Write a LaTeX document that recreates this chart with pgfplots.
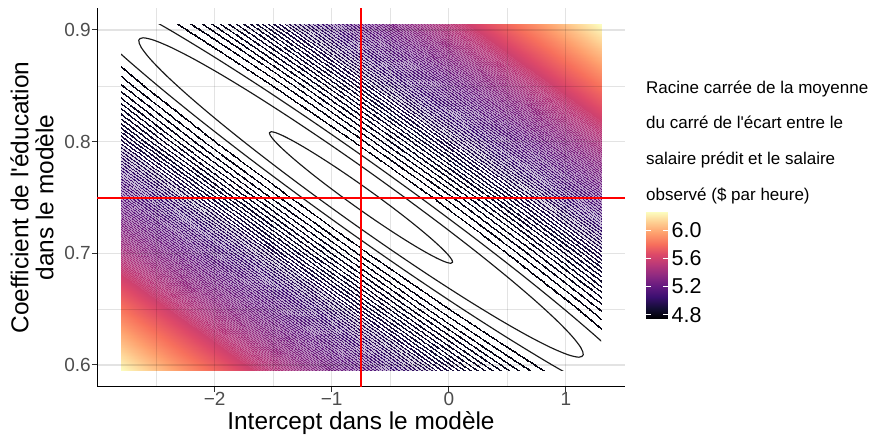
\documentclass[border=0pt]{standalone}
\usepackage{pgfplots}
\pgfplotsset{compat=1.18}
\usepackage{pgfplotstable}
\usepackage{fontspec}
\newfontfamily\lsans{Liberation Sans}
\definecolor{gridc}{HTML}{E3E3E3}
\definecolor{tickc}{HTML}{333333}
\definecolor{labc}{HTML}{4D4D4D}
\definecolor{pureRed}{RGB}{255,0,0}

\pgfplotsset{
colormap={magmaU}{rgb255=(0,0,4) rgb255=(20,14,54) rgb255=(59,15,112) rgb255=(100,26,128) rgb255=(140,41,129) rgb255=(183,55,121) rgb255=(222,73,104) rgb255=(247,112,92) rgb255=(254,159,109) rgb255=(254,207,146) rgb255=(252,253,191)},
colormap={magmaQ}{rgb255(22.5pt)=(0,0,4) rgb255(22.5397pt)=(0,0,4) rgb255(23.9990pt)=(20,14,54) rgb255(25.5041pt)=(59,15,112) rgb255(27.0550pt)=(100,26,128) rgb255(28.6516pt)=(140,41,129) rgb255(30.2940pt)=(183,55,121) rgb255(31.9822pt)=(222,73,104) rgb255(33.7161pt)=(247,112,92) rgb255(35.4959pt)=(254,159,109) rgb255(37.3213pt)=(254,207,146) rgb255(39.1926pt)=(252,253,191) rgb255(41.5pt)=(252,253,191)},
colormap={stripes}{color(22.5pt)=(white)
color(22.8768pt)=(black) color(22.9004pt)=(white)
color(22.9918pt)=(black) color(23.0192pt)=(white)
color(23.1072pt)=(black) color(23.1380pt)=(white)
color(23.2232pt)=(black) color(23.2570pt)=(white)
color(23.3396pt)=(black) color(23.3762pt)=(white)
color(23.4564pt)=(black) color(23.4956pt)=(white)
color(23.5734pt)=(black) color(23.6152pt)=(white)
color(23.6910pt)=(black) color(23.7350pt)=(white)
color(23.8089pt)=(black) color(23.8551pt)=(white)
color(23.9270pt)=(black) color(23.9754pt)=(white)
color(24.0456pt)=(black) color(24.0960pt)=(white)
color(24.1645pt)=(black) color(24.2169pt)=(white)
color(24.2836pt)=(black) color(24.3380pt)=(white)
color(24.4032pt)=(black) color(24.4594pt)=(white)
color(24.5278pt)=(black) color(24.5762pt)=(white!87!black)
color(24.6488pt)=(black) color(24.6974pt)=(white!85!black)
color(24.7701pt)=(black) color(24.8187pt)=(white!83!black)
color(24.8917pt)=(black) color(24.9405pt)=(white!81!black)
color(25.0136pt)=(black) color(25.0625pt)=(white!79!black)
color(25.1358pt)=(black) color(25.1848pt)=(white!77!black)
color(25.2582pt)=(black) color(25.3074pt)=(white!75!black)
color(25.3810pt)=(black) color(25.4302pt)=(white!73!black)
color(25.5041pt)=(black) color(25.5535pt)=(white!71!black)
color(25.6275pt)=(black) color(25.6770pt)=(white!70!black)
color(25.7511pt)=(black) color(25.8007pt)=(white!68!black)
color(25.8751pt)=(black) color(25.9249pt)=(white!66!black)
color(25.9994pt)=(black) color(26.0492pt)=(white!65!black)
color(26.1239pt)=(black) color(26.1739pt)=(white!63!black)
color(26.2488pt)=(black) color(26.2988pt)=(white!62!black)
color(26.3739pt)=(black) color(26.4241pt)=(white!60!black)
color(26.4994pt)=(black) color(26.5498pt)=(white!59!black)
color(26.6252pt)=(black) color(26.6756pt)=(white!57!black)
color(26.7512pt)=(black) color(26.8018pt)=(white!56!black)
color(26.8776pt)=(black) color(26.9282pt)=(white!54!black)
color(27.0042pt)=(black) color(27.0550pt)=(white!53!black)
color(27.1311pt)=(black) color(27.1821pt)=(white!52!black)
color(27.2584pt)=(black) color(27.3094pt)=(white!50!black)
color(27.3859pt)=(black) color(27.4371pt)=(white!49!black)
color(27.5138pt)=(black) color(27.5650pt)=(white!48!black)
color(27.6419pt)=(black) color(27.6933pt)=(white!47!black)
color(27.7703pt)=(black) color(27.8219pt)=(white!45!black)
color(27.8991pt)=(black) color(27.9507pt)=(white!44!black)
color(28.0281pt)=(black) color(28.0799pt)=(white!43!black)
color(28.1575pt)=(black) color(28.2093pt)=(white!42!black)
color(28.2870pt)=(black) color(28.3390pt)=(white!41!black)
color(28.4169pt)=(black) color(28.4691pt)=(white!40!black)
color(28.5472pt)=(black) color(28.5994pt)=(white!38!black)
color(28.6777pt)=(black) color(28.7301pt)=(white!37!black)
color(28.8086pt)=(black) color(28.8610pt)=(white!36!black)
color(28.9396pt)=(black) color(28.9922pt)=(white!35!black)
color(29.0711pt)=(black) color(29.1238pt)=(white!34!black)
color(29.2028pt)=(black) color(29.2556pt)=(white!33!black)
color(29.3347pt)=(black) color(29.3877pt)=(white!32!black)
color(29.4671pt)=(black) color(29.5201pt)=(white!31!black)
color(29.5997pt)=(black) color(29.6529pt)=(white!30!black)
color(29.7325pt)=(black) color(29.7859pt)=(white!29!black)
color(29.8658pt)=(black) color(29.9192pt)=(white!28!black)
color(29.9992pt)=(black) color(30.0528pt)=(white!27!black)
color(30.1331pt)=(black) color(30.1867pt)=(white!26!black)
color(30.2671pt)=(black) color(30.3209pt)=(white!23!black)
color(30.4015pt)=(black) color(30.4555pt)=(white!20!black)
color(30.5362pt)=(black) color(30.5902pt)=(white!17!black)
color(30.6712pt)=(black) color(30.7254pt)=(white!14!black)
color(30.8065pt)=(black) color(30.8607pt)=(white!11!black)
color(30.9420pt)=(black) color(30.9964pt)=(white!8!black)
color(31.0780pt)=(black) color(31.1325pt)=(white!5!black)
color(31.2141pt)=(black)
color(41.5pt)=(black)}
}

% RMSE^2 (Q) on a grid aligned with the valley of the criterion
\pgfplotstableread{
a b Q
-7.0678 0.905 41.1701
-6.7678 0.905 38.6801
-6.5178 0.905 36.7426
-6.2678 0.905 34.9301
-6.0178 0.905 33.2426
-5.7678 0.905 31.6801
-5.5178 0.905 30.2426
-5.2678 0.905 28.9301
-5.0178 0.905 27.7426
-4.7678 0.905 26.6801
-4.5178 0.905 25.7426
-4.2678 0.905 24.9301
-4.1178 0.905 24.5026
-3.9678 0.905 24.1201
-3.8678 0.905 23.8901
-3.7678 0.905 23.6801
-3.6678 0.905 23.4901
-3.5678 0.905 23.3201
-3.4678 0.905 23.1701
-3.3678 0.905 23.0401
-3.2678 0.905 22.9301
-3.1678 0.905 22.8401
-2.9678 0.905 22.7201
-2.7678 0.905 22.6801
-2.5678 0.905 22.7201
-2.3678 0.905 22.8401
-2.2678 0.905 22.9301
-2.1678 0.905 23.0401
-2.0678 0.905 23.1701
-1.9678 0.905 23.3201
-1.8678 0.905 23.4901
-1.7678 0.905 23.6801
-1.6678 0.905 23.8901
-1.5678 0.905 24.1201
-1.4178 0.905 24.5026
-1.2678 0.905 24.9301
-1.0178 0.905 25.7426
-0.7678 0.905 26.6801
-0.5178 0.905 27.7426
-0.2678 0.905 28.9301
-0.0178 0.905 30.2426
0.2322 0.905 31.6801
0.4822 0.905 33.2426
0.7322 0.905 34.9301
0.9822 0.905 36.7426
1.2322 0.905 38.6801
1.5322 0.905 41.1701
-6.3518 0.85 41.0743
-6.0518 0.85 38.5843
-5.8018 0.85 36.6468
-5.5518 0.85 34.8343
-5.3018 0.85 33.1468
-5.0518 0.85 31.5843
-4.8018 0.85 30.1468
-4.5518 0.85 28.8343
-4.3018 0.85 27.6468
-4.0518 0.85 26.5843
-3.8018 0.85 25.6468
-3.5518 0.85 24.8343
-3.4018 0.85 24.4068
-3.2518 0.85 24.0243
-3.1518 0.85 23.7943
-3.0518 0.85 23.5843
-2.9518 0.85 23.3943
-2.8518 0.85 23.2243
-2.7518 0.85 23.0743
-2.6518 0.85 22.9443
-2.5518 0.85 22.8343
-2.4518 0.85 22.7443
-2.2518 0.85 22.6243
-2.0518 0.85 22.5843
-1.8518 0.85 22.6243
-1.6518 0.85 22.7443
-1.5518 0.85 22.8343
-1.4518 0.85 22.9443
-1.3518 0.85 23.0743
-1.2518 0.85 23.2243
-1.1518 0.85 23.3943
-1.0518 0.85 23.5843
-0.9518 0.85 23.7943
-0.8518 0.85 24.0243
-0.7018 0.85 24.4068
-0.5518 0.85 24.8343
-0.3018 0.85 25.6468
-0.0518 0.85 26.5843
0.1982 0.85 27.6468
0.4482 0.85 28.8343
0.6982 0.85 30.1468
0.9482 0.85 31.5843
1.1982 0.85 33.1468
1.4482 0.85 34.8343
1.6982 0.85 36.6468
1.9482 0.85 38.5843
2.2482 0.85 41.0743
-5.7009 0.8 41.0231
-5.4009 0.8 38.5331
-5.1509 0.8 36.5956
-4.9009 0.8 34.7831
-4.6509 0.8 33.0956
-4.4009 0.8 31.5331
-4.1509 0.8 30.0956
-3.9009 0.8 28.7831
-3.6509 0.8 27.5956
-3.4009 0.8 26.5331
-3.1509 0.8 25.5956
-2.9009 0.8 24.7831
-2.7509 0.8 24.3556
-2.6009 0.8 23.9731
-2.5009 0.8 23.7431
-2.4009 0.8 23.5331
-2.3009 0.8 23.3431
-2.2009 0.8 23.1731
-2.1009 0.8 23.0231
-2.0009 0.8 22.8931
-1.9009 0.8 22.7831
-1.8009 0.8 22.6931
-1.6009 0.8 22.5731
-1.4009 0.8 22.5331
-1.2009 0.8 22.5731
-1.0009 0.8 22.6931
-0.9009 0.8 22.7831
-0.8009 0.8 22.8931
-0.7009 0.8 23.0231
-0.6009 0.8 23.1731
-0.5009 0.8 23.3431
-0.4009 0.8 23.5331
-0.3009 0.8 23.7431
-0.2009 0.8 23.9731
-0.0509 0.8 24.3556
0.0991 0.8 24.7831
0.3491 0.8 25.5956
0.5991 0.8 26.5331
0.8491 0.8 27.5956
1.0991 0.8 28.7831
1.3491 0.8 30.0956
1.5991 0.8 31.5331
1.8491 0.8 33.0956
2.0991 0.8 34.7831
2.3491 0.8 36.5956
2.5991 0.8 38.5331
2.8991 0.8 41.0231
-5.05 0.75 41.006
-4.75 0.75 38.516
-4.5 0.75 36.5785
-4.25 0.75 34.766
-4.0 0.75 33.0785
-3.75 0.75 31.516
-3.5 0.75 30.0785
-3.25 0.75 28.766
-3.0 0.75 27.5785
-2.75 0.75 26.516
-2.5 0.75 25.5785
-2.25 0.75 24.766
-2.1 0.75 24.3385
-1.95 0.75 23.956
-1.85 0.75 23.726
-1.75 0.75 23.516
-1.65 0.75 23.326
-1.55 0.75 23.156
-1.45 0.75 23.006
-1.35 0.75 22.876
-1.25 0.75 22.766
-1.15 0.75 22.676
-0.95 0.75 22.556
-0.75 0.75 22.516
-0.55 0.75 22.556
-0.35 0.75 22.676
-0.25 0.75 22.766
-0.15 0.75 22.876
-0.05 0.75 23.006
0.05 0.75 23.156
0.15 0.75 23.326
0.25 0.75 23.516
0.35 0.75 23.726
0.45 0.75 23.956
0.6 0.75 24.3385
0.75 0.75 24.766
1.0 0.75 25.5785
1.25 0.75 26.516
1.5 0.75 27.5785
1.75 0.75 28.766
2.0 0.75 30.0785
2.25 0.75 31.516
2.5 0.75 33.0785
2.75 0.75 34.766
3.0 0.75 36.5785
3.25 0.75 38.516
3.55 0.75 41.006
-4.3991 0.7 41.0231
-4.0991 0.7 38.5331
-3.8491 0.7 36.5956
-3.5991 0.7 34.7831
-3.3491 0.7 33.0956
-3.0991 0.7 31.5331
-2.8491 0.7 30.0956
-2.5991 0.7 28.7831
-2.3491 0.7 27.5956
-2.0991 0.7 26.5331
-1.8491 0.7 25.5956
-1.5991 0.7 24.7831
-1.4491 0.7 24.3556
-1.2991 0.7 23.9731
-1.1991 0.7 23.7431
-1.0991 0.7 23.5331
-0.9991 0.7 23.3431
-0.8991 0.7 23.1731
-0.7991 0.7 23.0231
-0.6991 0.7 22.8931
-0.5991 0.7 22.7831
-0.4991 0.7 22.6931
-0.2991 0.7 22.5731
-0.0991 0.7 22.5331
0.1009 0.7 22.5731
0.3009 0.7 22.6931
0.4009 0.7 22.7831
0.5009 0.7 22.8931
0.6009 0.7 23.0231
0.7009 0.7 23.1731
0.8009 0.7 23.3431
0.9009 0.7 23.5331
1.0009 0.7 23.7431
1.1009 0.7 23.9731
1.2509 0.7 24.3556
1.4009 0.7 24.7831
1.6509 0.7 25.5956
1.9009 0.7 26.5331
2.1509 0.7 27.5956
2.4009 0.7 28.7831
2.6509 0.7 30.0956
2.9009 0.7 31.5331
3.1509 0.7 33.0956
3.4009 0.7 34.7831
3.6509 0.7 36.5956
3.9009 0.7 38.5331
4.2009 0.7 41.0231
-3.7482 0.65 41.0743
-3.4482 0.65 38.5843
-3.1982 0.65 36.6468
-2.9482 0.65 34.8343
-2.6982 0.65 33.1468
-2.4482 0.65 31.5843
-2.1982 0.65 30.1468
-1.9482 0.65 28.8343
-1.6982 0.65 27.6468
-1.4482 0.65 26.5843
-1.1982 0.65 25.6468
-0.9482 0.65 24.8343
-0.7982 0.65 24.4068
-0.6482 0.65 24.0243
-0.5482 0.65 23.7943
-0.4482 0.65 23.5843
-0.3482 0.65 23.3943
-0.2482 0.65 23.2243
-0.1482 0.65 23.0743
-0.0482 0.65 22.9443
0.0518 0.65 22.8343
0.1518 0.65 22.7443
0.3518 0.65 22.6243
0.5518 0.65 22.5843
0.7518 0.65 22.6243
0.9518 0.65 22.7443
1.0518 0.65 22.8343
1.1518 0.65 22.9443
1.2518 0.65 23.0743
1.3518 0.65 23.2243
1.4518 0.65 23.3943
1.5518 0.65 23.5843
1.6518 0.65 23.7943
1.7518 0.65 24.0243
1.9018 0.65 24.4068
2.0518 0.65 24.8343
2.3018 0.65 25.6468
2.5518 0.65 26.5843
2.8018 0.65 27.6468
3.0518 0.65 28.8343
3.3018 0.65 30.1468
3.5518 0.65 31.5843
3.8018 0.65 33.1468
4.0518 0.65 34.8343
4.3018 0.65 36.6468
4.5518 0.65 38.5843
4.8518 0.65 41.0743
-3.0322 0.595 41.1701
-2.7322 0.595 38.6801
-2.4822 0.595 36.7426
-2.2322 0.595 34.9301
-1.9822 0.595 33.2426
-1.7322 0.595 31.6801
-1.4822 0.595 30.2426
-1.2322 0.595 28.9301
-0.9822 0.595 27.7426
-0.7322 0.595 26.6801
-0.4822 0.595 25.7426
-0.2322 0.595 24.9301
-0.0822 0.595 24.5026
0.0678 0.595 24.1201
0.1678 0.595 23.8901
0.2678 0.595 23.6801
0.3678 0.595 23.4901
0.4678 0.595 23.3201
0.5678 0.595 23.1701
0.6678 0.595 23.0401
0.7678 0.595 22.9301
0.8678 0.595 22.8401
1.0678 0.595 22.7201
1.2678 0.595 22.6801
1.4678 0.595 22.7201
1.6678 0.595 22.8401
1.7678 0.595 22.9301
1.8678 0.595 23.0401
1.9678 0.595 23.1701
2.0678 0.595 23.3201
2.1678 0.595 23.4901
2.2678 0.595 23.6801
2.3678 0.595 23.8901
2.4678 0.595 24.1201
2.6178 0.595 24.5026
2.7678 0.595 24.9301
3.0178 0.595 25.7426
3.2678 0.595 26.6801
3.5178 0.595 27.7426
3.7678 0.595 28.9301
4.0178 0.595 30.2426
4.2678 0.595 31.6801
4.5178 0.595 33.2426
4.7678 0.595 34.9301
5.0178 0.595 36.7426
5.2678 0.595 38.6801
5.5678 0.595 41.1701
}\meshdata

\pgfplotstableread{
x y m
0 4.7476 4.7476
1 4.7476 4.7476
0 4.8989 4.8989
1 4.8989 4.8989
0 5.0502 5.0502
1 5.0502 5.0502
0 5.2014 5.2014
1 5.2014 5.2014
0 5.3527 5.3527
1 5.3527 5.3527
0 5.5040 5.5040
1 5.5040 5.5040
0 5.6553 5.6553
1 5.6553 5.6553
0 5.8066 5.8066
1 5.8066 5.8066
0 5.9578 5.9578
1 5.9578 5.9578
0 6.1091 6.1091
1 6.1091 6.1091
0 6.2604 6.2604
1 6.2604 6.2604
}\cbdata

\begin{document}
\begin{tikzpicture}[font=\lsans]
\useasboundingbox (0,0) rectangle (873pt,436pt);

% ---- data region (contours) ----
\begin{axis}[
  at={(121pt,65.415pt)}, anchor=south west, scale only axis,
  width=480pt, height=346.17pt,
  xmin=-2.8, xmax=1.3, ymin=0.595, ymax=0.905,
  hide axis,
  point meta min=22.5, point meta max=41.5,
]
\addplot[surf, shader=interp, colormap name=magmaQ, mesh/cols=47, point meta=explicit]
  table[x=a, y=b, meta=Q] {\meshdata};
\addplot[surf, shader=interp, colormap name=stripes, colormap access=piecewise constant,
  mesh/cols=47, point meta=explicit, blend mode=screen]
  table[x=a, y=b, meta=Q] {\meshdata};
\addplot[black!90, line width=1.15pt, smooth, blend mode=normal] coordinates {
(-0.59602,0.75) (-0.73155,0.76023) (-0.86764,0.77015) (-1.00016,0.77946) (-1.12508,0.78787) (-1.23859,0.79514) (-1.33728,0.80103) (-1.41810,0.80537) (-1.47863,0.80802) (-1.51702,0.80892) (-1.53211,0.80802) (-1.52343,0.80537) (-1.49126,0.80103) (-1.43655,0.79514) (-1.36099,0.78787) (-1.26686,0.77946) (-1.15703,0.77015) (-1.03483,0.76023) (-0.90398,0.75) (-0.76845,0.73977) (-0.63236,0.72985) (-0.49984,0.72054) (-0.37492,0.71213) (-0.26141,0.70486) (-0.16272,0.69897) (-0.08190,0.69463) (-0.02137,0.69198) (0.01702,0.69108) (0.03211,0.69198) (0.02343,0.69463) (-0.00874,0.69897) (-0.06345,0.70486) (-0.13901,0.71213) (-0.23314,0.72054) (-0.34297,0.72985) (-0.46517,0.73977) (-0.59602,0.75)};
\addplot[black!90, line width=1.15pt, smooth, blend mode=normal] coordinates {
(-0.37624,0.75) (-0.70522,0.77484) (-1.03556,0.79891) (-1.35722,0.82151) (-1.66044,0.84193) (-1.93597,0.85956) (-2.17551,0.87386) (-2.37169,0.88439) (-2.51863,0.89084) (-2.61181,0.89302) (-2.64844,0.89084) (-2.62736,0.88439) (-2.54927,0.87386) (-2.41647,0.85956) (-2.23307,0.84193) (-2.00459,0.82151) (-1.73800,0.79891) (-1.44139,0.77484) (-1.12376,0.75) (-0.79478,0.72516) (-0.46444,0.70109) (-0.14278,0.67849) (0.16044,0.65807) (0.43597,0.64044) (0.67551,0.62614) (0.87169,0.61561) (1.01863,0.60916) (1.11181,0.60698) (1.14844,0.60916) (1.12736,0.61561) (1.04927,0.62614) (0.91647,0.64044) (0.73307,0.65807) (0.50459,0.67849) (0.23800,0.70109) (-0.05861,0.72516) (-0.37624,0.75)};
\addplot[black!90, line width=1.15pt, smooth, blend mode=normal] coordinates {
(1.68563,0.58234) (1.50587,0.60170) (1.25760,0.62556) (0.94831,0.65320) (0.58743,0.68379) (0.18591,0.71638) (-0.24405,0.75) (-0.68938,0.78362) (-1.13656,0.81621) (-1.57198,0.84680) (-1.98244,0.87444) (-2.35543,0.89830) (-2.67968,0.91766)};
\addplot[black!90, line width=1.15pt, smooth, blend mode=normal] coordinates {
(-3.18563,0.91766) (-3.00587,0.89830) (-2.75760,0.87444) (-2.44831,0.84680) (-2.08743,0.81621) (-1.68591,0.78362) (-1.25595,0.75) (-0.81062,0.71638) (-0.36344,0.68379) (0.07198,0.65320) (0.48244,0.62556) (0.85543,0.60170) (1.17968,0.58234)};
\end{axis}

% ---- main axis (grid, ticks, labels) ----
\begin{axis}[
  at={(97pt,49pt)}, anchor=south west, scale only axis,
  width=528pt, height=379pt,
  xmin=-3.005, xmax=1.505, ymin=0.5803, ymax=0.9197,
  axis x line=bottom, axis y line=left,
  axis line style={-, black, line width=1pt},
  xtick={-2,-1,0,1}, xticklabels={−2,−1,0,1},
  ytick={0.6,0.7,0.8,0.9}, yticklabels={0.6,0.7,0.8,0.9},
  minor xtick={-2.5,-1.5,-0.5,0.5}, minor ytick={0.65,0.85},
  grid=both,
  major grid style={gridc, line width=1.1pt, blend mode=multiply},
  minor grid style={gridc, line width=0.6pt, blend mode=multiply},
  tick align=outside, major tick length=5pt, minor tick length=0pt,
  tick style={tickc, line width=1pt},
  tick label style={font=\lsans\fontsize{19pt}{19pt}\selectfont, text=labc, inner sep=1pt},
  xticklabel style={yshift=1pt},
  xlabel={Intercept dans le modèle},
  ylabel={Coefficient de l'éducation\\dans le modèle},
  every axis x label/.style={at={(axis description cs:0.5,-0.113)}, anchor=base, inner sep=0pt,
     font=\lsans\fontsize{24.4pt}{25pt}\selectfont, text=black},
  every axis y label/.style={at={(axis description cs:-0.123,0.5)}, rotate=90, anchor=center,
     align=center, font=\lsans\fontsize{24.4pt}{25pt}\selectfont, text=black},
]
\end{axis}

% ---- reference lines (overlay, same geometry as main axis) ----
\begin{axis}[
  at={(97pt,49pt)}, anchor=south west, scale only axis,
  width=528pt, height=379pt,
  xmin=-3.005, xmax=1.505, ymin=0.5803, ymax=0.9197,
  hide axis,
]
% horizontal reference line at 0.75: a 2-pixel band aligned on the pixel grid
\addplot[fill=pureRed, draw=none, blend mode=normal] coordinates {
(-3.005,0.748657) (1.505,0.748657) (1.505,0.750448) (-3.005,0.750448)};
\addplot[draw=pureRed, line width=1.25pt, blend mode=normal] coordinates {(-0.75,0.5803) (-0.75,0.9197)};
\end{axis}

% ---- colour bar ----
\begin{axis}[
  at={(646pt,117.7pt)}, anchor=south west, scale only axis,
  width=21.5pt, height=106.6pt,
  xmin=0, xmax=1, ymin=4.7476, ymax=6.2604,
  xtick=\empty, ytick={4.8,5.2,5.6,6.0}, yticklabels={4.8,5.2,5.6,6.0},
  yticklabel pos=right,
  tick align=inside, major tick length=4.5pt,
  tick style={white, line width=0.9pt},
  axis line style={draw=none},
  axis on top,
  point meta min=4.7476, point meta max=6.2604,
  yticklabel style={font=\lsans\fontsize{21.5pt}{22pt}\selectfont, text=black, inner sep=1pt, xshift=3pt},
]
\addplot[surf, shader=interp, colormap name=magmaU, mesh/cols=2, point meta=explicit]
  table[x=x, y=y, meta=m] {\cbdata};
\end{axis}

\begin{scope}[every node/.style={anchor=base west, inner sep=0pt, font=\lsans\fontsize{17pt}{18pt}\selectfont}]
\node at (646pt,342pt) {Racine carrée de la moyenne};
\node at (646pt,307pt) {du carré de l'écart entre le};
\node at (646pt,271pt) {salaire prédit et le salaire};
\node at (646pt,235pt) {observé (\$ par heure)};
\end{scope}
\end{tikzpicture}
\end{document}
